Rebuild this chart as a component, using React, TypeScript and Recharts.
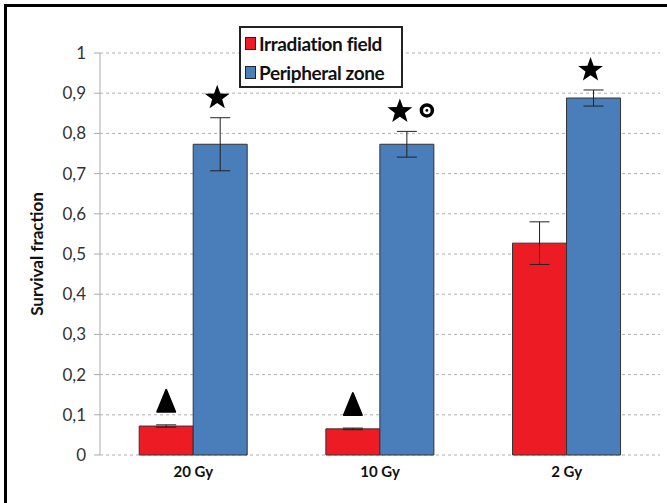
import { BarChart, Bar, XAxis, YAxis, CartesianGrid, ErrorBar, LabelList } from "recharts";

const categories = ["20 Gy", "10 Gy", "2 Gy"];
const irradiation = [0.072, 0.065, 0.527];
const irradiationErr = [0.003, 0.002, 0.053];
const peripheral = [0.773, 0.773, 0.888];
const peripheralErr = [0.066, 0.032, 0.02];
const irradiationMarks = ["triangle", "triangle", ""];
const peripheralMarks = ["star", "star-circle", "star"];
const yTicks = [0, 0.1, 0.2, 0.3, 0.4, 0.5, 0.6, 0.7, 0.8, 0.9, 1];

const data = categories.map((name, i) => ({
  name,
  red: irradiation[i],
  redErr: irradiationErr[i],
  redMark: irradiationMarks[i],
  blue: peripheral[i],
  blueErr: peripheralErr[i],
  blueMark: peripheralMarks[i],
}));

const RED = "#ed1c24";
const BLUE = "#4a7ebb";
const FONT = "Lato, 'Open Sans', sans-serif";

function starPath(cx: number, cy: number, ro: number, ri: number) {
  const pts: string[] = [];
  for (let k = 0; k < 10; k++) {
    const r = k % 2 === 0 ? ro : ri;
    const a = -Math.PI / 2 + (k * Math.PI) / 5;
    pts.push(`${cx + r * Math.cos(a)},${cy + r * Math.sin(a)}`);
  }
  return pts.join(" ");
}

function makeMark(errKey: "redErr" | "blueErr", valKey: "red" | "blue") {
  return (props: any) => {
    const { x, y, width, height, value, index } = props;
    if (!value) return null;
    const d = data[index];
    const pxPerUnit = height / d[valKey];
    const top = y - d[errKey] * pxPerUnit;
    const cx = x + width / 2;
    if (value === "triangle") {
      const cy = top - 24;
      return (
        <polygon
          points={`${cx},${cy - 11} ${cx + 9},${cy + 11} ${cx - 9},${cy + 11}`}
          fill="#000"
          stroke="#000"
          strokeWidth={2}
          strokeLinejoin="round"
        />
      );
    }
    const cy = top - 20;
    if (value === "star") {
      return <polygon points={starPath(cx - 3, cy, 13, 5.3)} fill="#000" />;
    }
    return (
      <g>
        <polygon points={starPath(cx - 7, cy, 13, 5.3)} fill="#000" />
        <circle cx={cx + 20} cy={cy - 1} r={5.5} fill="#fff" stroke="#000" strokeWidth={3.5} />
        <circle cx={cx + 20} cy={cy - 1} r={1.4} fill="#000" />
      </g>
    );
  };
}

function LegendBox() {
  const items = [
    { label: "Irradiation field", color: RED },
    { label: "Peripheral zone", color: BLUE },
  ];
  return (
    <div
      style={{
        position: "absolute",
        left: 239,
        top: 26,
        width: 156,
        height: 58,
        border: "2px solid #222",
        background: "#fff",
        fontFamily: FONT,
        fontWeight: 700,
        fontSize: 19,
        color: "#111",
        padding: "0 0 0 4px",
        letterSpacing: -0.4,
      }}
    >
      {items.map((it, i) => (
        <div key={it.label} style={{ display: "flex", alignItems: "center", height: 29, marginTop: i === 0 ? 1 : 0 }}>
          <span
            style={{
              display: "inline-block",
              width: 9,
              height: 11,
              background: it.color,
              border: "1px solid #222",
              marginRight: 3,
            }}
          />
          <span>{it.label}</span>
        </div>
      ))}
    </div>
  );
}

export default function App() {
  return (
    <div
      style={{
        position: "absolute",
        left: 0,
        top: 0,
        width: 667,
        height: 503,
        overflow: "hidden",
        background: "#fff",
      }}
    >
      <div
        style={{
          position: "absolute",
          left: 4,
          top: 4,
          width: 700,
          height: 540,
          border: "3px solid #000",
        }}
      />
      <div style={{ position: "absolute", left: 0, top: 0 }}>
        <BarChart
          width={667}
          height={503}
          data={data}
          margin={{ top: 53, right: 7, bottom: 18, left: 0 }}
          barCategoryGap="21%"
          barGap={0}
        >
          <CartesianGrid vertical={false} stroke="#b0b0b0" strokeDasharray="3 3" />
          <XAxis
            dataKey="name"
            height={30}
            axisLine={false}
            tickLine={false}
            tickMargin={5}
            tick={{ fontFamily: FONT, fontWeight: 700, fontSize: 15, fill: "#111" }}
          />
          <YAxis
            width={100}
            domain={[0, 1]}
            ticks={yTicks}
            interval={0}
            axisLine={{ stroke: "#aaa" }}
            tickLine={{ stroke: "#aaa" }}
            tickSize={6}
            tickMargin={8}
            tickFormatter={(v: number) => String(v).replace(".", ",")}
            tick={{ fontFamily: FONT, fontSize: 17, fill: "#333" }}
            label={{
              content: () => (
                <text
                  x={36}
                  y={254}
                  transform="rotate(-90 36 254)"
                  textAnchor="middle"
                  dominantBaseline="central"
                  fontFamily={FONT}
                  fontWeight={700}
                  fontSize={17}
                  fill="#111"
                >
                  Survival fraction
                </text>
              ),
            }}
          />
          <Bar dataKey="red" name="Irradiation field" fill={RED} stroke="#333" strokeWidth={1} isAnimationActive={false}>
            <ErrorBar dataKey="redErr" width={10} stroke="#222" strokeWidth={1} />
            <LabelList dataKey="redMark" content={makeMark("redErr", "red")} />
          </Bar>
          <Bar dataKey="blue" name="Peripheral zone" fill={BLUE} stroke="#333" strokeWidth={1} isAnimationActive={false}>
            <ErrorBar dataKey="blueErr" width={10} stroke="#222" strokeWidth={1} />
            <LabelList dataKey="blueMark" content={makeMark("blueErr", "blue")} />
          </Bar>
        </BarChart>
      </div>
      <LegendBox />
    </div>
  );
}
